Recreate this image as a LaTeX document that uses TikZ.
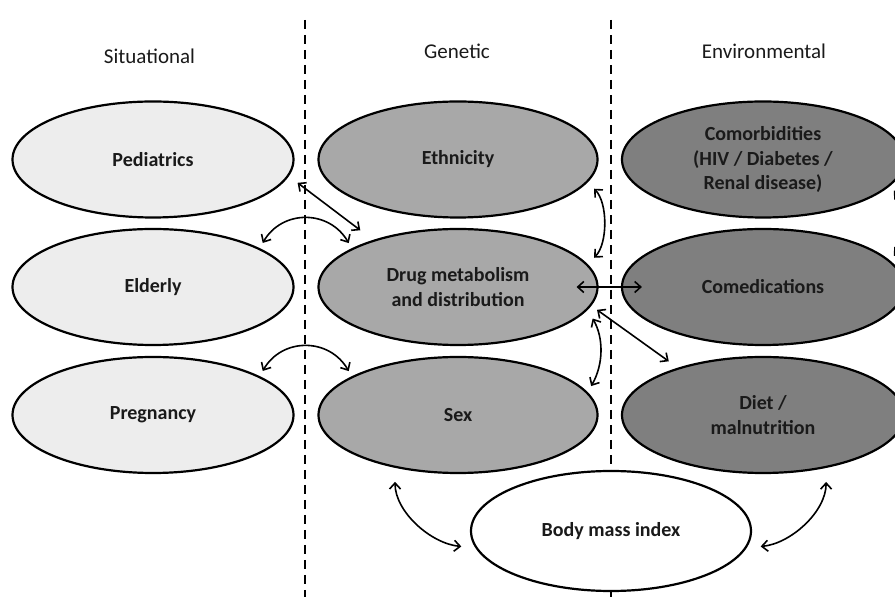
\documentclass[tikz,border=0pt]{standalone}
\usepackage{fontspec}
\setmainfont{Carlito}
\usetikzlibrary{shapes.geometric,arrows.meta}
\definecolor{sitc}{HTML}{EDEDED}
\definecolor{genc}{HTML}{A8A8A8}
\definecolor{envc}{HTML}{7F7F7F}
\definecolor{txt}{HTML}{1A1A1A}
\begin{document}
\begin{tikzpicture}[x=1pt,y=1pt,
 ell/.style={ellipse, draw=black, line width=2.2pt, inner sep=0pt, minimum width=281pt, minimum height=116pt, align=center, text=txt, font=\fontsize{20}{24.5}\selectfont\bfseries},
 sit/.style={ell, fill=sitc},
 gen/.style={ell, fill=genc, minimum width=279pt},
 env/.style={ell, fill=envc, minimum width=282pt},
 bmistyle/.style={ell, fill=white, minimum width=280pt, minimum height=120pt},
 ttl/.style={anchor=base, text=txt, font=\fontsize{21}{25}\selectfont},
 divider/.style={line width=1.5pt, dash pattern=on 9pt off 6pt},
 dbl/.style={{Straight Barb[length=6pt,width=11pt]}-{Straight Barb[length=6pt,width=11pt]}, line width=1.6pt, black},
]
\useasboundingbox (0,0) rectangle (895,597);
\clip (0,0) rectangle (895,597);
\fill[white] (0,0) rectangle (895,597);

% dividers
\coordinate (d1t) at (305,577);
\coordinate (d1b) at (305,0);
\coordinate (d2t) at (611,577);
\coordinate (d2b) at (611,0);
\draw[divider] (d1t) -- (d1b);
\draw[divider] (d2t) -- (d2b);

% titles
\node[ttl] (tsit) at (149.5,533) {Situational};
\node[ttl] (tgen) at (457,538) {Genetic};
\node[ttl] (tenv) at (764,538) {Environmental};

% nodes
\node[sit] (ped) at (153,437.5) {Pediatrics};
\node[sit] (eld) at (153,310) {Elderly};
\node[sit] (preg) at (153,182) {Pregnancy};
\node[gen] (eth) at (458,437.5) {Ethnicity};
\node[gen] (drug) at (458,310) {Drug metabolism\\and distribution};
\node[gen] (sex) at (458,182) {Sex};
\node[env] (comorb) at (763,437.5) {Comorbidities\\(HIV / Diabetes /\\Renal disease)};
\node[env] (comed) at (763,310) {Comedications};
\node[env] (diet) at (763,182) {Diet /\\malnutrition};
\node[bmistyle] (bmi) at (611,66) {Body mass index};

% connectors
\draw[dbl, shorten <=11pt, shorten >=16pt] (ped.-7) -- (drug.151);
\draw[dbl, shorten <=6pt, shorten >=6pt] (eld.20) to[out=60,in=120,looseness=1.25] (drug.160);
\draw[dbl, shorten <=6pt, shorten >=6pt] (preg.20) to[out=60,in=120,looseness=1.25] (sex.160);
\draw[dbl, shorten <=9pt, shorten >=9pt] (eth.-10) to[out=-45,in=45,looseness=0.9] (drug.10);
\draw[dbl, shorten <=-22pt, shorten >=-21pt] (drug.0) -- (comed.180);
\draw[dbl, shorten <=7pt, shorten >=11pt] (drug.-8) -- (diet.151);
\draw[dbl, shorten <=10pt, shorten >=7pt] (drug.-10) to[out=-60,in=60] (sex.10);
\draw[dbl, shorten <=14pt, shorten >=14pt] (sex.220) to[out=-90,in=175] (bmi.187);
\draw[dbl, shorten <=14pt, shorten >=14pt] (bmi.-7) to[out=5,in=-90] (diet.-40);
\draw[dbl, shorten <=6pt, shorten >=6pt] (comorb.-12) to[out=-45,in=45,looseness=0.7] (comed.12);
\end{tikzpicture}
\end{document}
